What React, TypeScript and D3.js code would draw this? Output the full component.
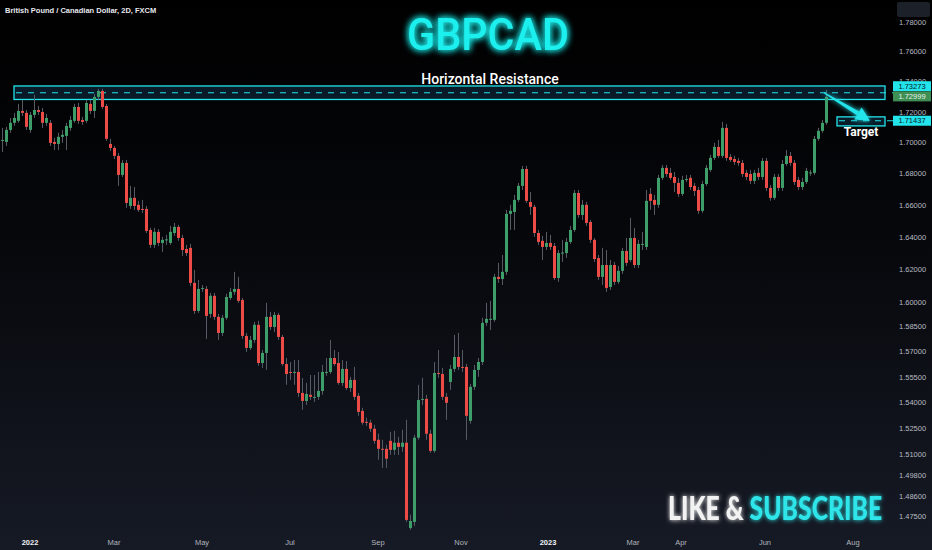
import { useLayoutEffect, useRef, useState } from "react";
import * as d3 from "d3";

// GBPCAD 2D candles (oldest first)
const opens = [
  1.7013, 1.7006, 1.7084, 1.713, 1.7143, 1.7208, 1.7195, 1.7084, 1.7182, 1.7214,
  1.7201, 1.713, 1.713, 1.7006, 1.6993, 1.7039, 1.7045, 1.7097, 1.7143, 1.7234,
  1.7149, 1.7143, 1.7254, 1.7208, 1.73, 1.7339, 1.724, 1.6993, 1.6967, 1.6916,
  1.6794, 1.6871, 1.6597, 1.6648, 1.6604, 1.6578, 1.6578, 1.6446, 1.6353, 1.6434,
  1.6365, 1.6384, 1.6365, 1.6427, 1.6465, 1.6396, 1.6327, 1.6334, 1.6118, 1.5947,
  1.6084, 1.6081, 1.5929, 1.6039, 1.5911, 1.5814, 1.5905, 1.6026, 1.6063, 1.6081,
  1.6014, 1.5796, 1.5724, 1.5772, 1.5863, 1.5634, 1.5694, 1.5911, 1.585, 1.5923,
  1.579, 1.5628, 1.5581, 1.5578, 1.5581, 1.5457, 1.541, 1.5446, 1.5431, 1.5434,
  1.5469, 1.5578, 1.5581, 1.5664, 1.5634, 1.5516, 1.5599, 1.5486, 1.5534, 1.544,
  1.5352, 1.5288, 1.5283, 1.5248, 1.5184, 1.5132, 1.5132, 1.5178, 1.5126, 1.5167,
  1.5143, 1.5167, 1.4683, 1.4717, 1.5196, 1.5419, 1.5422, 1.5219, 1.512, 1.5575,
  1.5569, 1.5434, 1.5522, 1.5599, 1.567, 1.5611, 1.5611, 1.5294, 1.5493, 1.5593,
  1.564, 1.5875, 1.5896, 1.5893, 1.6155, 1.6142, 1.6186, 1.6547, 1.6559, 1.6635,
  1.6724, 1.6832, 1.6622, 1.6591, 1.6427, 1.6378, 1.634, 1.6365, 1.6346, 1.6148,
  1.6302, 1.6302, 1.6371, 1.6446, 1.6679, 1.654, 1.6604, 1.6496, 1.6384, 1.6271,
  1.6155, 1.6228, 1.6093, 1.6228, 1.6124, 1.6192, 1.6315, 1.6259, 1.6396, 1.6228,
  1.6356, 1.634, 1.6673, 1.6635, 1.6604, 1.6775, 1.6839, 1.6807, 1.6781, 1.6743,
  1.6673, 1.6765, 1.6775, 1.6724, 1.6698, 1.6566, 1.6736, 1.6826, 1.6903, 1.6974,
  1.6916, 1.7097, 1.6909, 1.6896, 1.6884, 1.6871, 1.6807, 1.68, 1.6756, 1.6807,
  1.6781, 1.6884, 1.6711, 1.6648, 1.6781, 1.6711, 1.6864, 1.6916, 1.6871, 1.6762,
  1.6717, 1.6749, 1.6807, 1.6807, 1.7026, 1.7078, 1.713,
];

const highs = [
  1.7097, 1.7104, 1.7162, 1.7195, 1.7254, 1.728, 1.7214, 1.7201, 1.7313, 1.724,
  1.7227, 1.7188, 1.7149, 1.7032, 1.7065, 1.7084, 1.713, 1.7175, 1.7254, 1.726,
  1.7169, 1.728, 1.728, 1.732, 1.7353, 1.7353, 1.7254, 1.7026, 1.698, 1.6935,
  1.689, 1.689, 1.6724, 1.6717, 1.6629, 1.6635, 1.6597, 1.6459, 1.6459, 1.6452,
  1.6403, 1.6415, 1.6471, 1.649, 1.6478, 1.6415, 1.6353, 1.6359, 1.6198, 1.6136,
  1.6105, 1.6099, 1.6057, 1.6057, 1.5929, 1.5923, 1.6051, 1.6087, 1.6186, 1.6155,
  1.6026, 1.5814, 1.5796, 1.5881, 1.5887, 1.5712, 1.5996, 1.5941, 1.5941, 1.5935,
  1.5802, 1.5664, 1.564, 1.5652, 1.5652, 1.5545, 1.5516, 1.5563, 1.5563, 1.5581,
  1.5622, 1.5664, 1.5772, 1.5712, 1.57, 1.5652, 1.5646, 1.5552, 1.5611, 1.5457,
  1.537, 1.5312, 1.53, 1.5271, 1.5219, 1.5184, 1.5155, 1.523, 1.5236, 1.5201,
  1.5242, 1.53, 1.4757, 1.5213, 1.5505, 1.5546, 1.5446, 1.5242, 1.564, 1.5712,
  1.5605, 1.5457, 1.5622, 1.5802, 1.5814, 1.5712, 1.5628, 1.551, 1.5622, 1.5664,
  1.5905, 1.5996, 1.6008, 1.6173, 1.6241, 1.629, 1.6572, 1.6604, 1.6667, 1.6743,
  1.6852, 1.6852, 1.6685, 1.6604, 1.6446, 1.6409, 1.6434, 1.6415, 1.6365, 1.6321,
  1.6384, 1.6396, 1.6471, 1.6698, 1.6698, 1.6635, 1.6622, 1.6509, 1.6396, 1.629,
  1.6334, 1.6321, 1.6259, 1.6247, 1.6222, 1.6334, 1.6396, 1.6522, 1.6459, 1.6384,
  1.6434, 1.6698, 1.6711, 1.6667, 1.6794, 1.6858, 1.6858, 1.6839, 1.6813, 1.6775,
  1.6788, 1.6794, 1.6794, 1.6743, 1.6717, 1.6756, 1.6858, 1.6922, 1.7, 1.7019,
  1.7136, 1.7123, 1.6928, 1.6916, 1.6903, 1.689, 1.6826, 1.6826, 1.6826, 1.6839,
  1.6903, 1.6903, 1.673, 1.68, 1.68, 1.689, 1.6954, 1.6941, 1.689, 1.6781,
  1.6775, 1.6839, 1.6826, 1.7045, 1.7097, 1.7149, 1.7346,
];

const lows = [
  1.6941, 1.698, 1.7065, 1.711, 1.713, 1.7175, 1.7084, 1.7065, 1.7162, 1.7182,
  1.7097, 1.711, 1.698, 1.6954, 1.6954, 1.7, 1.6954, 1.7078, 1.713, 1.7123,
  1.7117, 1.713, 1.7188, 1.7162, 1.728, 1.7221, 1.7013, 1.6948, 1.6896, 1.6724,
  1.6781, 1.6585, 1.6578, 1.6572, 1.6559, 1.6553, 1.6427, 1.6334, 1.6334, 1.6346,
  1.6309, 1.6353, 1.6353, 1.6409, 1.6378, 1.6284, 1.6284, 1.6099, 1.5929, 1.5935,
  1.6063, 1.5778, 1.5905, 1.5893, 1.5772, 1.5796, 1.5893, 1.6014, 1.6045, 1.5996,
  1.5778, 1.57, 1.5712, 1.5754, 1.5617, 1.5605, 1.5593, 1.5832, 1.582, 1.5772,
  1.5617, 1.5505, 1.5534, 1.5505, 1.5434, 1.5358, 1.5387, 1.5416, 1.5404, 1.5416,
  1.5446, 1.5558, 1.5569, 1.5617, 1.5505, 1.5499, 1.5475, 1.5463, 1.5416, 1.5323,
  1.5271, 1.5265, 1.523, 1.5161, 1.5069, 1.5023, 1.5023, 1.5097, 1.5097, 1.5097,
  1.5115, 1.4717, 1.4672, 1.4694, 1.5184, 1.5387, 1.5184, 1.5109, 1.5109, 1.5546,
  1.5416, 1.53, 1.5475, 1.5581, 1.5593, 1.5581, 1.5184, 1.5277, 1.5475, 1.5552,
  1.5622, 1.5856, 1.5832, 1.5881, 1.6118, 1.6105, 1.6167, 1.6446, 1.6446, 1.6622,
  1.6698, 1.6616, 1.654, 1.6403, 1.6353, 1.6259, 1.6321, 1.6321, 1.6136, 1.6124,
  1.6247, 1.6271, 1.6359, 1.6434, 1.6522, 1.6509, 1.6471, 1.6365, 1.6247, 1.6136,
  1.6105, 1.6063, 1.6075, 1.6105, 1.6112, 1.6173, 1.6222, 1.6247, 1.621, 1.621,
  1.6321, 1.6321, 1.6572, 1.654, 1.6585, 1.6762, 1.6781, 1.6762, 1.6685, 1.6654,
  1.666, 1.6749, 1.6698, 1.666, 1.6547, 1.6553, 1.6724, 1.6813, 1.689, 1.6903,
  1.6903, 1.6884, 1.6877, 1.6858, 1.6852, 1.6781, 1.6762, 1.6736, 1.6736, 1.6762,
  1.6762, 1.6692, 1.6629, 1.6635, 1.6692, 1.6692, 1.6852, 1.6852, 1.673, 1.6698,
  1.6698, 1.6736, 1.6788, 1.6794, 1.7013, 1.7065, 1.7117,
];

const closes = [
  1.7019, 1.7084, 1.713, 1.7162, 1.7208, 1.7195, 1.7104, 1.7182, 1.7214, 1.7201,
  1.713, 1.7162, 1.7, 1.6993, 1.7039, 1.7052, 1.711, 1.7149, 1.7234, 1.7143,
  1.7136, 1.726, 1.7208, 1.73, 1.7339, 1.7234, 1.7026, 1.6967, 1.6916, 1.6794,
  1.6871, 1.6616, 1.6648, 1.6597, 1.6572, 1.6575, 1.644, 1.6353, 1.6434, 1.6365,
  1.6384, 1.6387, 1.6434, 1.6465, 1.6396, 1.6321, 1.6302, 1.6118, 1.5947, 1.6081,
  1.6087, 1.5917, 1.6039, 1.5911, 1.5814, 1.5905, 1.6032, 1.6063, 1.6081, 1.6008,
  1.5796, 1.5724, 1.5772, 1.5863, 1.5634, 1.5694, 1.5911, 1.585, 1.5923, 1.579,
  1.5628, 1.5569, 1.5578, 1.5581, 1.5457, 1.541, 1.5451, 1.5434, 1.5434, 1.5469,
  1.5581, 1.5581, 1.5664, 1.5628, 1.5516, 1.5599, 1.5486, 1.5534, 1.5434, 1.5346,
  1.5283, 1.5285, 1.5248, 1.5178, 1.5132, 1.5129, 1.5075, 1.5126, 1.5167, 1.5143,
  1.5167, 1.4728, 1.4722, 1.5196, 1.5416, 1.5422, 1.5219, 1.512, 1.5575, 1.5572,
  1.5434, 1.5399, 1.5599, 1.567, 1.5611, 1.5608, 1.5323, 1.5493, 1.5593, 1.564,
  1.5875, 1.5899, 1.5899, 1.6155, 1.6142, 1.6186, 1.6547, 1.6566, 1.6635, 1.6724,
  1.6832, 1.6629, 1.6591, 1.6427, 1.6371, 1.634, 1.6365, 1.634, 1.6148, 1.6302,
  1.6305, 1.6371, 1.6446, 1.6679, 1.654, 1.6604, 1.649, 1.6384, 1.6265, 1.6155,
  1.6228, 1.6087, 1.6228, 1.6124, 1.6192, 1.6315, 1.6241, 1.6396, 1.6228, 1.6359,
  1.6359, 1.6629, 1.6629, 1.6604, 1.6775, 1.6839, 1.68, 1.6775, 1.6743, 1.6673,
  1.6762, 1.6768, 1.6717, 1.6692, 1.6566, 1.6736, 1.6839, 1.6903, 1.6974, 1.6916,
  1.7097, 1.6903, 1.689, 1.6877, 1.6871, 1.68, 1.6781, 1.6756, 1.6807, 1.6781,
  1.6884, 1.6711, 1.6648, 1.6781, 1.6711, 1.6864, 1.6916, 1.6871, 1.6749, 1.6717,
  1.6749, 1.682, 1.681, 1.7026, 1.7078, 1.713, 1.72999,
];

const priceTicks = [
  1.78, 1.76, 1.74, 1.72, 1.7, 1.68, 1.66, 1.64, 1.62, 1.6, 1.585, 1.57, 1.555,
  1.54, 1.525, 1.51, 1.498, 1.486, 1.475,
];

const timeLabels = ["2022", "Mar", "May", "Jul", "Sep", "Nov", "2023", "Mar", "Apr", "Jun", "Aug"];
// where each label sits, in bar numbers
const timeLabelBars = [7, 28, 50, 72, 94, 114.75, 136.5, 157.75, 169.75, 190.75, 212.75];

const resistanceLevel = 1.73273;
const resistanceZone = [1.7372, 1.7283];
const resistanceBars = [3, 220.75];
const targetLevel = 1.71437;
const targetZone = [1.7169, 1.711];
const targetBars = [208.75, 220.75];
const arrowBars = [205.5, 217];
const lastPrice = closes[closes.length - 1];

const W = 932;
const H = 550;
const fmt = d3.format(".5f");

const upColor = "#3e9e6a";
const downColor = "#ec4b46";
const wickColor = "#565a64";
const cyan = "#22e4ea";

const ctaX = 668;
const ctaWidth = 214;

export default function App() {
  const ctaRef = useRef<SVGTextElement>(null);
  const [ctaScale, setCtaScale] = useState(0.8);

  useLayoutEffect(() => {
    const measure = () => {
      const el = ctaRef.current;
      if (!el) return;
      const w = el.getComputedTextLength();
      if (w > 0) setCtaScale(ctaWidth / w);
    };
    measure();
    document.fonts?.ready.then(measure);
  }, []);

  const x = d3.scaleLinear().domain([0, 220]).range([2, 882]);
  const y = d3.scaleLog().domain([1.78, 1.475]).range([22, 516]);

  const bars = closes.map((c, i) => ({ o: opens[i], h: highs[i], l: lows[i], c, i }));

  // arrow geometry
  const ax0 = x(arrowBars[0]);
  const ay0 = y(resistanceLevel);
  const ax1 = x(arrowBars[1]);
  const ay1 = y(targetLevel);
  const len = Math.hypot(ax1 - ax0, ay1 - ay0);
  const ux = (ax1 - ax0) / len;
  const uy = (ay1 - ay0) / len;
  const nx = -uy;
  const ny = ux;
  const headLen = 14;
  const bx = ax1 - ux * headLen;
  const by = ay1 - uy * headLen;
  const shaft = [
    [ax0 + nx * 0.6, ay0 + ny * 0.6],
    [bx + nx * 2.2, by + ny * 2.2],
    [bx - nx * 2.2, by - ny * 2.2],
    [ax0 - nx * 0.6, ay0 - ny * 0.6],
  ];
  const head = [
    [ax1, ay1],
    [bx + nx * 7, by + ny * 7],
    [bx - nx * 7, by - ny * 7],
  ];

  const priceLabels = [
    { value: resistanceLevel, cy: y(resistanceLevel) - 6.5, bg: cyan, fg: "#06202b" },
    { value: lastPrice, cy: y(lastPrice) - 0.5, bg: "#3f8f55", fg: "#e6f4ea" },
    { value: targetLevel, cy: y(targetLevel), bg: cyan, fg: "#06202b" },
  ];

  return (
    <svg
      width={W}
      height={H}
      style={{ position: "fixed", left: 0, top: 0, display: "block" }}
      fontFamily="'Liberation Sans', Arial, sans-serif"
    >
      <defs>
        <linearGradient id="bg" x1="0" y1="0" x2="0" y2="1">
          <stop offset="0%" stopColor="#000000" />
          <stop offset="45%" stopColor="#07080c" />
          <stop offset="100%" stopColor="#161a25" />
        </linearGradient>
        <filter id="glow" x="-20%" y="-60%" width="140%" height="220%">
          <feGaussianBlur stdDeviation="3.5" result="b" />
          <feMerge>
            <feMergeNode in="b" />
            <feMergeNode in="b" />
            <feMergeNode in="SourceGraphic" />
          </feMerge>
        </filter>
        <filter id="softglow" x="-10%" y="-50%" width="120%" height="200%">
          <feGaussianBlur stdDeviation="2.5" result="b" />
          <feMerge>
            <feMergeNode in="b" />
            <feMergeNode in="SourceGraphic" />
          </feMerge>
        </filter>
      </defs>

      <rect width={W} height={H} fill="url(#bg)" />

      {/* resistance zone */}
      <rect
        x={x(resistanceBars[0])}
        y={y(resistanceZone[0])}
        width={x(resistanceBars[1]) - x(resistanceBars[0])}
        height={y(resistanceZone[1]) - y(resistanceZone[0])}
        fill="#0b2030"
        fillOpacity={0.85}
        stroke={cyan}
        strokeWidth={1.3}
      />
      <line
        x1={x(resistanceBars[0]) + 2}
        x2={893}
        y1={y(resistanceLevel)}
        y2={y(resistanceLevel)}
        stroke={cyan}
        strokeWidth={1.2}
        strokeDasharray="6 6"
      />

      {/* target zone */}
      <rect
        x={x(targetBars[0])}
        y={y(targetZone[0])}
        width={x(targetBars[1]) - x(targetBars[0])}
        height={y(targetZone[1]) - y(targetZone[0])}
        fill="#0b2030"
        fillOpacity={0.85}
        stroke={cyan}
        strokeWidth={1.3}
      />
      <line
        x1={x(targetBars[0]) + 2}
        x2={893}
        y1={y(targetLevel)}
        y2={y(targetLevel)}
        stroke={cyan}
        strokeWidth={1.2}
        strokeDasharray="6 6"
      />

      {/* candles */}
      <g>
        {bars.map((b) => {
          const up = b.c >= b.o;
          const cx = x(b.i);
          const top = y(Math.max(b.o, b.c));
          const bot = y(Math.min(b.o, b.c));
          return (
            <g key={b.i}>
              <line
                x1={cx + 0.5}
                x2={cx + 0.5}
                y1={y(b.h)}
                y2={y(b.l)}
                stroke={wickColor}
                strokeWidth={1}
              />
              <rect
                x={cx - 1}
                y={top}
                width={3}
                height={Math.max(1, bot - top)}
                fill={up ? upColor : downColor}
              />
            </g>
          );
        })}
      </g>

      {/* arrow */}
      <g fill={cyan} filter="url(#softglow)">
        <polygon points={shaft.map((p) => p.join(",")).join(" ")} />
        <polygon points={head.map((p) => p.join(",")).join(" ")} />
      </g>

      <text
        x={(x(targetBars[0]) + x(targetBars[1])) / 2}
        y={136}
        textAnchor="middle"
        fill="#ffffff"
        fontFamily="Roboto, sans-serif"
        fontWeight={700}
        fontSize={12}
      >
        Target
      </text>

      <text
        x={490}
        y={84}
        textAnchor="middle"
        fill="#ffffff"
        fontFamily="Roboto, sans-serif"
        fontWeight={500}
        fontSize={14}
      >
        Horizontal Resistance
      </text>

      {/* title */}
      <text
        x={488}
        y={50}
        textAnchor="middle"
        fill="#1ff0ee"
        fontFamily="Roboto, sans-serif"
        fontWeight={500}
        fontSize={44}
        textLength={162}
        lengthAdjust="spacingAndGlyphs"
        filter="url(#glow)"
      >
        GBPCAD
      </text>

      <text x={5} y={13} fill="#e6e8ee" fontSize={7.5} fontWeight={700}>
        British Pound / Canadian Dollar, 2D, FXCM
      </text>

      <rect x={897} y={2} width={33} height={15} rx={2} fill="#1c2029" />

      {/* price axis */}
      <g fontSize={7.5} fill="#b7bac3">
        {priceTicks.map((t) => (
          <text key={t} x={899} y={y(t)} dominantBaseline="central">
            {fmt(t)}
          </text>
        ))}
      </g>

      {priceLabels.map((p) => (
        <g key={p.value}>
          <rect x={893} y={p.cy - 5} width={38} height={10} fill={p.bg} />
          <text
            x={912}
            y={p.cy}
            textAnchor="middle"
            dominantBaseline="central"
            fontSize={7.5}
            fill={p.fg}
          >
            {fmt(p.value)}
          </text>
        </g>
      ))}

      {/* time axis */}
      <g fontSize={7.5}>
        {timeLabels.map((t, i) => {
          const year = /^\d{4}$/.test(t);
          return (
            <text
              key={i}
              x={x(timeLabelBars[i])}
              y={545}
              textAnchor="middle"
              fill={year ? "#f0f2f6" : "#b2b5be"}
              fontWeight={year ? 700 : 400}
            >
              {t}
            </text>
          );
        })}
      </g>

      {/* call to action */}
      <g transform={`translate(${ctaX},520) scale(${ctaScale},1)`} filter="url(#softglow)">
        <text ref={ctaRef} x={0} y={0} fontFamily="Lato, sans-serif" fontWeight={900} fontSize={33}>
          <tspan fill="#f2f2f2">LIKE &amp; </tspan>
          <tspan fill="#2ee6ea">SUBSCRIBE</tspan>
        </text>
      </g>
    </svg>
  );
}
